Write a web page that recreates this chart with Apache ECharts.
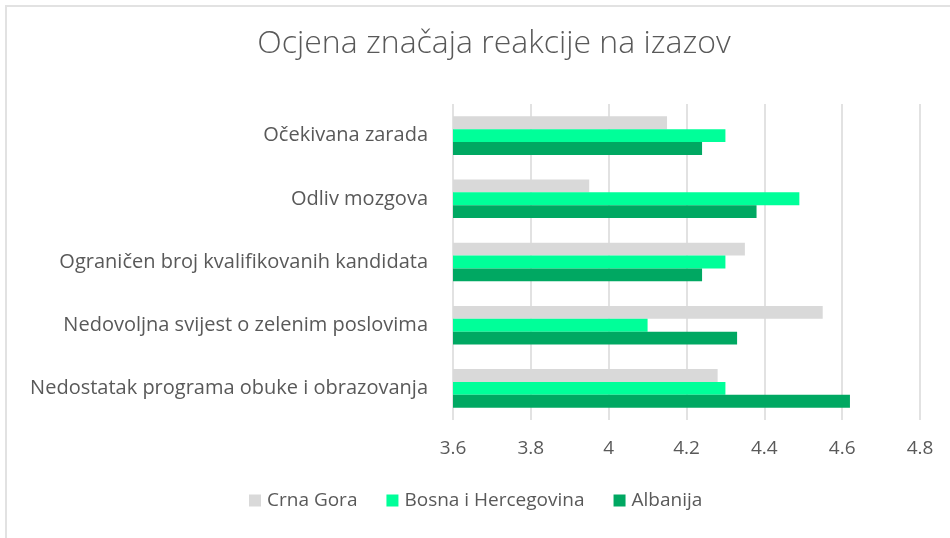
<!DOCTYPE html>
<html>
<head>
<meta charset="utf-8">
<script src="https://cdn.jsdelivr.net/npm/echarts@6/dist/echarts.min.js"></script>
<style>
  html, body { margin: 0; padding: 0; background: #fff; }
  #frame {
    position: absolute; left: 5px; top: 5px; width: 945px; height: 533px;
    border-left: 2px solid #e2e2e2; border-top: 2px solid #e2e2e2;
  }
  #chart { position: absolute; left: 0; top: 0; width: 950px; height: 538px; }
</style>
</head>
<body>
<div id="frame"></div>
<div id="chart"></div>
<script>
const categories = [
  "Očekivana zarada",
  "Odliv mozgova",
  "Ograničen broj kvalifikovanih kandidata",
  "Nedovoljna svijest o zelenim poslovima",
  "Nedostatak programa obuke i obrazovanja"
];
const crnaGora = [4.15, 3.95, 4.35, 4.55, 4.28];
const bosna = [4.30, 4.49, 4.30, 4.10, 4.30];
const albanija = [4.24, 4.38, 4.24, 4.33, 4.62];

const chart = echarts.init(document.getElementById("chart"), null, { renderer: "canvas" });

const textFont = "Open Sans";
const bar = (name, data, color) => ({
  name: name,
  type: "bar",
  data: data,
  barGap: "0%",
  barCategoryGap: "39%",
  itemStyle: { color: color },
  emphasis: { disabled: true }
});

chart.setOption({
  animation: false,
  title: {
    text: "Ocjena značaja reakcije na izazov",
    left: 489,
    textAlign: "center",
    top: 23,
    textStyle: { fontFamily: textFont, fontWeight: 300, fontSize: 32, color: "#595959" }
  },
  legend: {
    bottom: 23,
    left: 244,
    itemWidth: 12,
    itemHeight: 12,
    itemGap: 29,
    icon: "rect",
    textStyle: { fontFamily: textFont, fontSize: 19, color: "#595959", padding: [0, 0, 0, 1] },
    data: ["Crna Gora", "Bosna i Hercegovina", "Albanija"]
  },
  grid: { left: 453, right: 30, top: 104, bottom: 118 },
  xAxis: {
    type: "value",
    min: 3.6,
    max: 4.8,
    interval: 0.2,
    axisLine: { show: false },
    axisTick: { show: false },
    splitLine: { lineStyle: { color: "#d9d9d9", width: 1.5 } },
    axisLabel: { fontFamily: textFont, fontSize: 19, color: "#595959", margin: 19 }
  },
  yAxis: {
    type: "category",
    data: categories,
    inverse: true,
    axisLine: { show: false },
    axisTick: { show: false },
    axisLabel: { fontFamily: textFont, fontSize: 20, color: "#595959", margin: 25 }
  },
  series: [
    bar("Crna Gora", crnaGora, "#d9d9d9"),
    bar("Bosna i Hercegovina", bosna, "#00ff99"),
    bar("Albanija", albanija, "#00a862")
  ]
});
</script>
</body>
</html>
